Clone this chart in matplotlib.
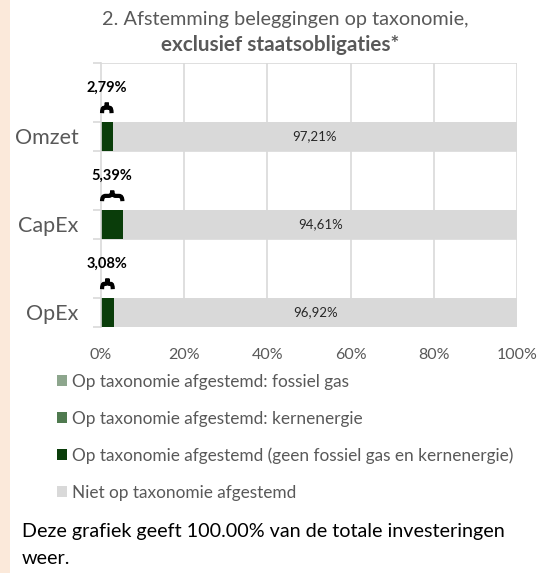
import matplotlib
matplotlib.use("Agg")
import matplotlib.pyplot as plt
from matplotlib.patches import Rectangle, PathPatch
from matplotlib.path import Path

plt.rcParams['font.family'] = ['Lato', 'DejaVu Sans']

# ---- data ----
categories = ["Omzet", "CapEx", "OpEx"]
fossiel_gas = [0.0, 0.0, 0.0]
kernenergie = [0.0, 0.0, 0.0]
afgestemd = [2.79, 5.39, 3.08]
niet_afgestemd = [97.21, 94.61, 96.92]
series_labels = [
    "Op taxonomie afgestemd: fossiel gas",
    "Op taxonomie afgestemd: kernenergie",
    "Op taxonomie afgestemd (geen fossiel gas en kernenergie)",
    "Niet op taxonomie afgestemd",
]
x_ticks = [0, 20, 40, 60, 80, 100]
x_ticklabels = ["0%", "20%", "40%", "60%", "80%", "100%"]
title_line1 = "2. Afstemming beleggingen op taxonomie,"
title_line2 = "exclusief staatsobligaties*"
footnote = "Deze grafiek geeft 100.00% van de totale investeringen\nweer."

def fmt(v):
    return f"{v:.2f}".replace(".", ",") + "%"

# ---- styling ----
W, H = 551, 573
DPI = 100
c_gas = "#8DA68D"
c_kern = "#4F7A4F"
c_aligned = "#0A3D0A"
c_not = "#D9D9D9"
grid_c = "#D9D9D9"
text_gray = "#595959"

fig = plt.figure(figsize=(W / DPI, H / DPI), dpi=DPI)
fig.patch.set_facecolor("white")
fig.patches.append(Rectangle((0, 0), 10 / W, 1, transform=fig.transFigure,
                             facecolor="#FBE9DA", edgecolor="none", zorder=0))

left, right, top, bottom = 101, 517, 63, 327
ax = fig.add_axes([left / W, 1 - bottom / H, (right - left) / W, (bottom - top) / H])

bar_h = 0.33
ypos = [i + 1 - bar_h / 2 for i in range(len(categories))]

cum = [0.0] * len(categories)
bars = []
for vals, col, lab in zip([fossiel_gas, kernenergie, afgestemd, niet_afgestemd],
                          [c_gas, c_kern, c_aligned, c_not], series_labels):
    b = ax.barh(ypos, vals, left=cum, height=bar_h, color=col, label=lab,
                edgecolor="none", zorder=2)
    bars.append(b)
    cum = [c + v for c, v in zip(cum, vals)]

ax.set_xlim(0, 100)
ax.set_ylim(len(categories), 0)
ax.set_xticks(x_ticks)
ax.set_xticklabels(x_ticklabels, color=text_gray, fontsize=11.5)
ax.tick_params(axis="x", length=0, pad=15)
for x in x_ticks[1:]:
    ax.axvline(x, color=grid_c, lw=1.2, zorder=1)
for y in range(len(categories)):
    ax.axhline(y, color=grid_c, lw=1.2, zorder=1)

ax.set_yticks(ypos)
ax.set_yticklabels(categories, color=text_gray, fontsize=15.5)
ax.tick_params(axis="y", length=0, pad=16)
minor = [0] + [v for i in range(len(categories)) for v in (i + 1 - bar_h, i + 1)]
ax.set_yticks(minor, minor=True)
ax.tick_params(axis="y", which="minor", length=6, color=grid_c, width=1.2)

for s in ["top", "right", "bottom"]:
    ax.spines[s].set_visible(False)
ax.spines["left"].set_color(grid_c)
ax.spines["left"].set_linewidth(1.2)

# inner labels
for y, a, n in zip(ypos, afgestemd, niet_afgestemd):
    ax.text(a + n / 2, y, fmt(n), ha="center", va="center", fontsize=9.5,
            color="#262626", zorder=3)

# braces and top labels
for i, (y, a) in enumerate(zip(ypos, afgestemd)):
    yb = i + 0.57
    yt = i + 0.45
    ym = (yb + yt) / 2
    xm = a / 2
    e = min(a * 0.15, 0.9)
    x0 = 0.25
    x1 = a - 0.25
    verts = [
        (x0, yb), (x0, ym), (x0 + e, ym),
        (xm - e, ym), (xm, ym), (xm, yt),
        (xm, ym), (xm + e, ym),
        (x1 - e, ym), (x1, ym), (x1, yb),
    ]
    codes = [Path.MOVETO, Path.CURVE3, Path.CURVE3,
             Path.LINETO, Path.CURVE3, Path.CURVE3,
             Path.CURVE3, Path.CURVE3,
             Path.LINETO, Path.CURVE3, Path.CURVE3]
    ax.add_patch(PathPatch(Path(verts, codes), facecolor="none", edgecolor="black",
                           lw=3.0, zorder=4, clip_on=False, capstyle="butt"))
    ax.text(xm, i + 0.28, fmt(a), ha="center", va="center", fontsize=10.5,
            fontweight="bold", color="black", zorder=4, clip_on=False)

# title
fig.text(285 / W, 1 - 19 / H, title_line1, ha="center", va="center",
         fontsize=14.3, color=text_gray)
fig.text(280 / W, 1 - 45 / H, title_line2, ha="center", va="center",
         fontsize=14.9, fontweight="bold", color=text_gray)

# legend
leg = fig.legend(handles=bars, labels=series_labels, loc="upper left",
                 bbox_to_anchor=(57 / W, 1 - 374 / H), frameon=False,
                 fontsize=12.4, labelcolor=text_gray, handlelength=0.6,
                 handleheight=0.6, handletextpad=0.25, labelspacing=1.2,
                 borderaxespad=0, borderpad=0)

# footnote
fig.text(22 / W, 1 - 545 / H, footnote, ha="left", va="center", fontsize=14.2,
         color="black", linespacing=1.75)

fig.savefig("out.png", dpi=DPI)
